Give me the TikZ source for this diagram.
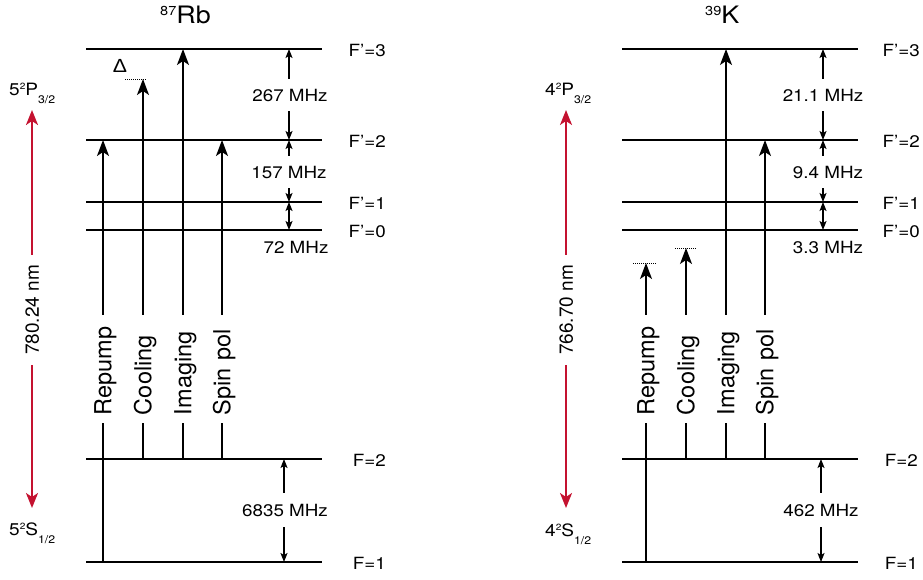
\documentclass[tikz,border=0pt]{standalone}
\usepackage{fontspec}
\setmainfont{TeX Gyre Heros}[FakeStretch=1.12]
\newfontfamily\rotfont{TeX Gyre Heros}
\newfontfamily\grkfont{Liberation Sans}[FakeStretch=1.12]
\usetikzlibrary{arrows.meta}
\definecolor{lasred}{RGB}{196,18,48}
\newcommand\stlab[3]{#1\raisebox{6pt}{\fontsize{9}{9}\selectfont 2}#2\raisebox{-8pt}{\fontsize{11}{11}\selectfont #3}}
\newcommand\isolab[2]{\raisebox{8pt}{\fontsize{13}{13}\selectfont #1}#2}
\begin{document}
\begin{tikzpicture}[x=1pt,y=-1pt,
  level/.style={line width=2.5pt},
  trans/.style={line width=1.5pt},
  ttip/.style={trans,-{Stealth[length=16pt,width=12pt,inset=4pt]}},
  fline/.style={line width=1.2pt},
  ftip/.style={fline,-{Stealth[length=9pt,width=7pt,inset=2pt]}},
  fboth/.style={fline,{Stealth[length=9pt,width=7pt,inset=2pt]}-{Stealth[length=9pt,width=7pt,inset=2pt]}},
  rline/.style={line width=2pt,draw=lasred},
  rtip/.style={rline,-{Stealth[length=15pt,width=12pt,inset=4pt,fill=lasred]}},
  dotl/.style={line width=0.8pt,dash pattern=on 1pt off 1pt},
  lvl/.style={font=\fontsize{16.8}{18}\selectfont, inner sep=0pt, anchor=east, text height=12pt, text depth=0pt},
  flab/.style={font=\fontsize{16.8}{18}\selectfont, inner sep=0pt, text height=12pt, text depth=0pt, minimum height=32pt},
  vlab/.style={font=\rotfont\fontsize{23.5}{26}\selectfont, rotate=90, inner xsep=8pt, inner ysep=0pt, text width=92pt, align=left, text height=16.9pt, text depth=0pt},
  rlab/.style={font=\rotfont\fontsize{19}{22}\selectfont, rotate=90, inner sep=0pt, minimum width=110pt, text height=13.7pt, text depth=0pt},
  state/.style={font=\fontsize{17}{20}\selectfont, inner sep=0pt, anchor=base west},
  title/.style={font=\fontsize{24}{28}\selectfont, inner sep=0pt, anchor=base west}
]
\useasboundingbox (0,0) rectangle (923,579);

% ================= 87Rb =================
\node[title] (rbT) at (160,23) {\isolab{87}{Rb}};

% levels
\foreach \n/\y in {e3/49,e2/140,e1/202,e0/230,g2/459,g1/562}{
  \coordinate (rb\n) at (86,\y);
  \coordinate (rb\n r) at (322,\y);
}
\foreach \n in {e3,e2,e1,e0,g2,g1}{ \draw[level] (rb\n) -- (rb\n r); }
\node[lvl] (rbLe3) at (386,50) {F’=3};
\node[lvl] (rbLe2) at (386,141) {F’=2};
\node[lvl] (rbLe1) at (386,203) {F’=1};
\node[lvl] (rbLe0) at (386,231) {F’=0};
\node[lvl] (rbLg2) at (386,460) {F=2};
\node[lvl] (rbLg1) at (386,563) {F=1};

% transition columns
\coordinate (rbRx) at (103,0);
\coordinate (rbCx) at (143,0);
\coordinate (rbIx) at (183,0);
\coordinate (rbSx) at (222,0);
\coordinate (rbCtop) at (143,79);
\node[vlab] (rbRl) at (103,369) {Repump};
\node[vlab] (rbCl) at (143,369) {Cooling};
\node[vlab] (rbIl) at (183,369) {Imaging};
\node[vlab] (rbSl) at (222,369) {Spin pol};
\draw[trans] (rbRx |- rbg1) -- (rbRl.west);
\draw[ttip] (rbRl.east) -- (rbRx |- rbe2);
\draw[trans] (rbCx |- rbg2) -- (rbCl.west);
\draw[ttip] (rbCl.east) -- (rbCtop);
\draw[trans] (rbIx |- rbg2) -- (rbIl.west);
\draw[ttip] (rbIl.east) -- (rbIx |- rbe3);
\draw[trans] (rbSx |- rbg2) -- (rbSl.west);
\draw[ttip] (rbSl.east) -- (rbSx |- rbe2);
% detuning
\coordinate (rbDa) at (125,79);
\coordinate (rbDb) at (147,79);
\draw[dotl] (rbDa) -- (rbDb);
\node[font=\grkfont\fontsize{19}{20}\selectfont, inner sep=0pt] (rbDelta) at (120,66) {Δ};

% splittings
\coordinate (rbFx) at (289,0);
\coordinate (rbGx) at (284,0);
\node[flab] (rb267) at (290,95) {267 MHz};
\draw[ftip] (rb267.north -| rbFx) -- (rbFx |- rbe3);
\draw[ftip] (rb267.south -| rbFx) -- (rbFx |- rbe2);
\node[flab] (rb157) at (289,172) {157 MHz};
\draw[ftip] (rb157.north -| rbFx) -- (rbFx |- rbe2);
\draw[ftip] (rb157.south -| rbFx) -- (rbFx |- rbe1);
\draw[fboth] (rbFx |- rbe1) -- (rbFx |- rbe0);
\node[flab, minimum height=0pt] (rb72) at (296,247) {72 MHz};
\node[flab, minimum height=34pt] (rb6835) at (285,510) {6835 MHz};
\draw[ftip] (rb6835.north -| rbGx) -- (rbGx |- rbg2);
\draw[ftip] (rb6835.south -| rbGx) -- (rbGx |- rbg1);

% D2 line
\coordinate (rbPt) at (32,110);
\coordinate (rbSb) at (32,508);
\node[rlab] (rbW) at (32,310) {780.24 nm};
\draw[rtip] (rbW.east) -- (rbPt);
\draw[rtip] (rbW.west) -- (rbSb);
\node[state] (rbP) at (9,95) {\stlab{5}{P}{3/2}};
\node[state] (rbS) at (9,535) {\stlab{5}{S}{1/2}};

% ================= 39K =================
\node[title] (kT) at (705,23) {\isolab{39}{K}};

\foreach \n/\y in {e3/49,e2/140,e1/202,e0/230,g2/459,g1/562}{
  \coordinate (k\n) at (622,\y);
  \coordinate (k\n r) at (858,\y);
}
\foreach \n in {e3,e2,e1,e0,g2,g1}{ \draw[level] (k\n) -- (k\n r); }
\node[lvl] (kLe3) at (920,50) {F’=3};
\node[lvl] (kLe2) at (920,141) {F’=2};
\node[lvl] (kLe1) at (920,203) {F’=1};
\node[lvl] (kLe0) at (920,231) {F’=0};
\node[lvl] (kLg2) at (918,460) {F=2};
\node[lvl] (kLg1) at (918,563) {F=1};

\coordinate (kRx) at (646,0);
\coordinate (kCx) at (686,0);
\coordinate (kIx) at (726,0);
\coordinate (kSx) at (765,0);
\coordinate (kRtop) at (646,263);
\coordinate (kCtop) at (686,248);
\node[vlab] (kRl) at (646,369) {Repump};
\node[vlab] (kCl) at (686,369) {Cooling};
\node[vlab] (kIl) at (726,369) {Imaging};
\node[vlab] (kSl) at (765,369) {Spin pol};
\draw[trans] (kRx |- kg1) -- (kRl.west);
\draw[ttip] (kRl.east) -- (kRtop);
\draw[trans] (kCx |- kg2) -- (kCl.west);
\draw[ttip] (kCl.east) -- (kCtop);
\draw[trans] (kIx |- kg2) -- (kIl.west);
\draw[ttip] (kIl.east) -- (kIx |- ke3);
\draw[trans] (kSx |- kg2) -- (kSl.west);
\draw[ttip] (kSl.east) -- (kSx |- ke2);
\coordinate (kDa) at (633,263);
\coordinate (kDb) at (657,263);
\draw[dotl] (kDa) -- (kDb);
\coordinate (kDc) at (675,248);
\coordinate (kDd) at (697,248);
\draw[dotl] (kDc) -- (kDd);

\coordinate (kFx) at (823,0);
\coordinate (kGx) at (821,0);
\node[flab] (k211) at (823,95) {21.1 MHz};
\draw[ftip] (k211.north -| kFx) -- (kFx |- ke3);
\draw[ftip] (k211.south -| kFx) -- (kFx |- ke2);
\node[flab] (k94) at (828,172) {9.4 MHz};
\draw[ftip] (k94.north -| kFx) -- (kFx |- ke2);
\draw[ftip] (k94.south -| kFx) -- (kFx |- ke1);
\draw[fboth] (kFx |- ke1) -- (kFx |- ke0);
\node[flab, minimum height=0pt] (k33) at (828,247) {3.3 MHz};
\node[flab, minimum height=34pt] (k462) at (821,510) {462 MHz};
\draw[ftip] (k462.north -| kGx) -- (kGx |- kg2);
\draw[ftip] (k462.south -| kGx) -- (kGx |- kg1);

\coordinate (kPt) at (566,110);
\coordinate (kSb) at (566,508);
\node[rlab] (kW) at (566,310) {766.70 nm};
\draw[rtip] (kW.east) -- (kPt);
\draw[rtip] (kW.west) -- (kSb);
\node[state] (kP) at (545,95) {\stlab{4}{P}{3/2}};
\node[state] (kS) at (545,536) {\stlab{4}{S}{1/2}};
\end{tikzpicture}
\end{document}
